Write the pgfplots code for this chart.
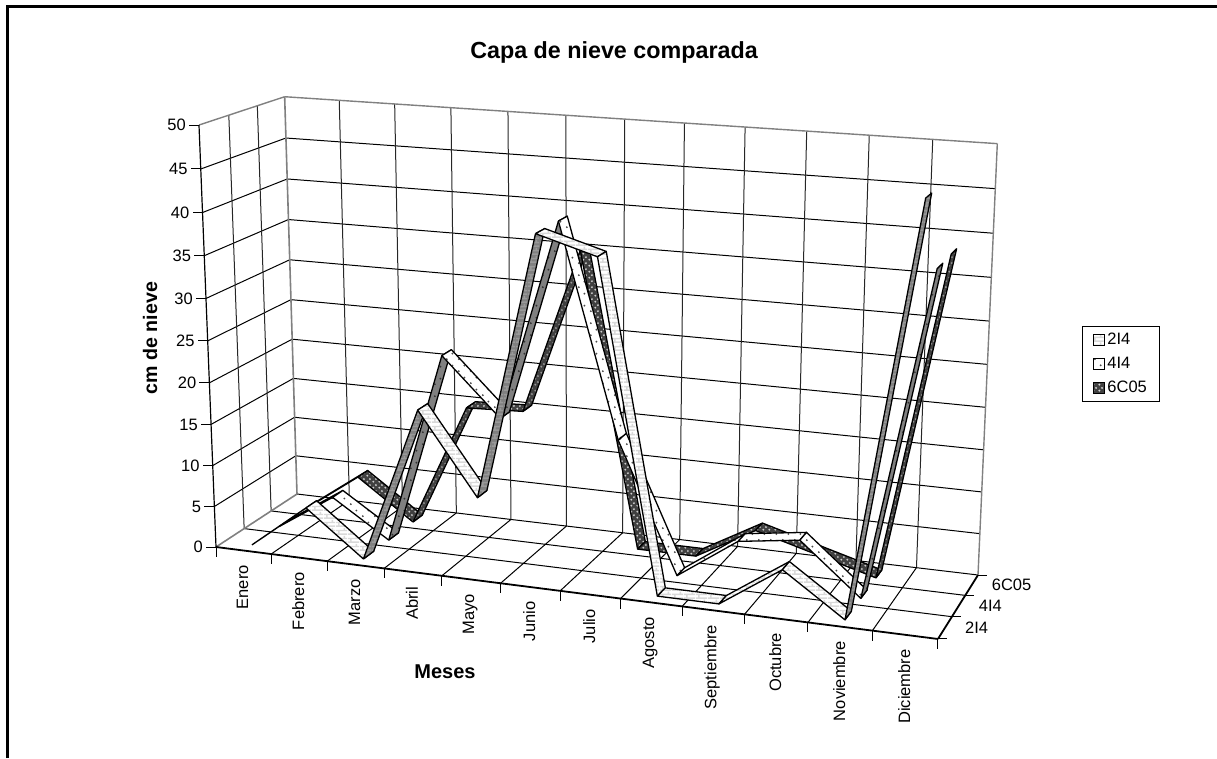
\documentclass[border=0pt]{standalone}
\usepackage{fontspec}
\setmainfont{Liberation Sans}
\usepackage{pgfplots}
\usepackage{pgfplotstable}
\pgfplotsset{compat=1.18}
\usetikzlibrary{patterns}

% cm of snow per month, series sit at depth 0.5, 1.5, 2.5
\pgfplotstableread{
m  a    b     c
0  0    0     0
1  5.4  4.5   4.9
2  0    0     0
3  18.7 23.3  15.1
4  9.1  16.5  15.4
5  40.2 40.2  35.4
6  38.2 15.4  0
7  0    0     0
8  0    5     4
9  4.9  6     2
10 0    0     0
11 47.3 38.3  38.4
}\snow

% patterns, drawn in picture pixels
\pgfdeclarepatternformonly{brk}{\pgfqpoint{0pt}{0pt}}{\pgfqpoint{12pt}{8pt}}{\pgfqpoint{12pt}{8pt}}{%
  \pgfsetlinewidth{1.6pt}
  \pgfpathmoveto{\pgfqpoint{0pt}{1pt}}\pgfpathlineto{\pgfqpoint{12pt}{1pt}}
  \pgfpathmoveto{\pgfqpoint{0pt}{5pt}}\pgfpathlineto{\pgfqpoint{12pt}{5pt}}
  \pgfpathmoveto{\pgfqpoint{3pt}{1pt}}\pgfpathlineto{\pgfqpoint{3pt}{5pt}}
  \pgfpathmoveto{\pgfqpoint{9pt}{5pt}}\pgfpathlineto{\pgfqpoint{9pt}{8pt}}
  \pgfusepath{stroke}}
\pgfdeclarepatternformonly{dts}{\pgfqpoint{0pt}{0pt}}{\pgfqpoint{12pt}{12pt}}{\pgfqpoint{12pt}{12pt}}{%
  \pgfpathcircle{\pgfqpoint{3pt}{3pt}}{1.1pt}
  \pgfusepath{fill}
  \pgfpathcircle{\pgfqpoint{9pt}{9pt}}{1.1pt}
  \pgfusepath{fill}}
\pgfdeclarepatternformonly{dmd}{\pgfqpoint{0pt}{0pt}}{\pgfqpoint{6pt}{6pt}}{\pgfqpoint{6pt}{6pt}}{%
  \pgfpathcircle{\pgfqpoint{1.5pt}{1.5pt}}{1.2pt}
  \pgfusepath{fill}
  \pgfpathcircle{\pgfqpoint{4.5pt}{4.5pt}}{1.2pt}
  \pgfusepath{fill}}

\definecolor{gray20}{gray}{.20}\definecolor{gray25}{gray}{.25}
\definecolor{gray30}{gray}{.30}\definecolor{gray35}{gray}{.35}
\definecolor{gray50}{gray}{.50}\definecolor{gray60}{gray}{.60}
\definecolor{gray80}{gray}{.80}\definecolor{gray85}{gray}{.85}

% background and pattern of each face; up = steep rise, dn = the rest
\tikzset{
  aupbg/.style={draw=none,fill=gray50},  auppt/.style={draw=none,pattern=brk,pattern color=gray60},
  adnbg/.style={draw=none,fill=white},   adnpt/.style={draw=none,pattern=brk,pattern color=gray85},
  bupbg/.style={draw=none,fill=gray50},  buppt/.style={draw=none,pattern=dts,pattern color=gray20},
  bdnbg/.style={draw=none,fill=white},   bdnpt/.style={draw=none,pattern=dts,pattern color=gray30},
  cupbg/.style={draw=none,fill=gray25},  cuppt/.style={draw=none,pattern=dmd,pattern color=gray60},
  cdnbg/.style={draw=none,fill=gray25},  cdnpt/.style={draw=none,pattern=dmd,pattern color=gray80},
}

% chart space (month 0-12, depth 0-3, cm 0-50) to picture pixels
\newcommand\proj[4]{%
  \pgfmathsetmacro\pu{#1/12}\pgfmathsetmacro\pv{#2/3}\pgfmathsetmacro\pw{#3/50}%
  \pgfmathsetmacro\dn{1-0.08906*\pu+0.06543*\pv-0.045*\pw}%
  \pgfmathsetmacro\qx{(216+638.46*\pu+100.43*\pv-25.96*\pw)/\dn}%
  \pgfmathsetmacro\qy{(547+35.09*\pu-20.68*\pv-427.62*\pw)/\dn}%
  \edef#4{(\qx,\qy)}}

\newcommand\gl[7]{% two chart points, then the style
  \proj{#1}{#2}{#3}{\ptA}\proj{#4}{#5}{#6}{\ptB}%
  \edef\temp{\noexpand\addplot[#7] coordinates {\ptA\ptB};}\temp}

% one series: column, depth, style prefix
\newcommand\ribbon[3]{%
  \pgfplotsforeachungrouped \i in {0,...,10}{%
    \pgfmathtruncatemacro\j{\i+1}%
    \pgfplotstablegetelem{\i}{#1}\of\snow\let\va\pgfplotsretval
    \pgfplotstablegetelem{\j}{#1}\of\snow\let\vb\pgfplotsretval
    \pgfmathsetmacro\ua{\i+0.5}\pgfmathsetmacro\ub{\i+1.5}%
    \pgfmathsetmacro\vf{#2-0.2}\pgfmathsetmacro\vk{#2+0.2}%
    \proj{\ua}{\vf}{\va}{\ptA}\proj{\ub}{\vf}{\vb}{\ptB}%
    \proj{\ub}{\vk}{\vb}{\ptC}\proj{\ua}{\vk}{\va}{\ptD}%
    \pgfmathparse{\vb>\va+6?"up":"dn"}\let\dirn\pgfmathresult
    \edef\temp{\noexpand\addplot[#3\dirn bg] coordinates {\ptA\ptB\ptC\ptD\ptA};
      \noexpand\addplot[#3\dirn pt] coordinates {\ptA\ptB\ptC\ptD\ptA};
      \noexpand\addplot[draw=black,line width=1.3pt,line join=round] coordinates {\ptA\ptB\ptC\ptD\ptA};}\temp
  }}

\newcommand\tf{\fontsize{16.5}{19}\selectfont}

\begin{document}
\begin{tikzpicture}
\path[use as bounding box] (0,0) rectangle (1217pt,758pt);
\begin{axis}[
  at={(0,0)},anchor=south west,
  width=1217pt,height=758pt,scale only axis,
  xmin=0,xmax=1217,ymin=0,ymax=758,y dir=reverse,
  hide axis,clip=true,
  every axis plot/.append style={no marks,solid},
  legend style={at={(axis cs:1082,326)},anchor=north west,
    draw=black,line width=.8pt,font=\tf,
    row sep=7pt,inner xsep=11pt,inner ysep=5pt},
  legend cell align=left,
  legend image code/.code={\draw[#1,line width=1pt] (0pt,-5.5pt) rectangle (11pt,5.5pt);},
]
\addlegendimage{draw=black,fill=white,postaction={pattern=brk,pattern color=gray85}}
\addlegendentry{2I4}
\addlegendimage{draw=black,fill=white,postaction={pattern=dts,pattern color=gray30}}
\addlegendentry{4I4}
\addlegendimage{draw=black,fill=gray25,postaction={pattern=dmd,pattern color=gray85}}
\addlegendentry{6C05}

% page frame: bottom and right sides are cut off
\addplot[black,line width=2.6pt] coordinates {(7.5,758) (7.5,6.3) (1217,6.3)};

% walls and floor
\pgfplotsforeachungrouped \w in {5,10,...,45}{%
  \gl{0}{0}{\w}{0}{3}{\w}{black,line width=1pt}
  \gl{0}{3}{\w}{12}{3}{\w}{black,line width=1pt}
}
\pgfplotsforeachungrouped \u in {1,...,11}{%
  \gl{\u}{3}{0}{\u}{3}{50}{black!85,line width=1pt}
  \gl{\u}{0}{0}{\u}{3}{0}{black,line width=1pt}
}
\pgfplotsforeachungrouped \v in {1,2}{%
  \gl{0}{\v}{0}{0}{\v}{50}{black!85,line width=1pt}
  \gl{0}{\v}{0}{12}{\v}{0}{black,line width=1pt}
}
\gl{0}{3}{0}{12}{3}{0}{black,line width=1pt}
\gl{0}{0}{50}{0}{3}{50}{gray50,line width=1.4pt}
\gl{0}{3}{50}{12}{3}{50}{gray50,line width=1.4pt}
\gl{0}{3}{0}{0}{3}{50}{gray50,line width=1.6pt}
\gl{12}{3}{0}{12}{3}{50}{gray50,line width=1.4pt}
\gl{0}{0}{0}{0}{3}{0}{gray50,line width=1.6pt}
\gl{0}{0}{0}{12}{0}{0}{black,line width=1.8pt}
\gl{12}{0}{0}{12}{3}{0}{black,line width=1.8pt}
\gl{0}{0}{0}{0}{0}{50}{black,line width=1.2pt}

% ribbons, back to front
\ribbon{c}{2.5}{c}
\ribbon{b}{1.5}{b}
\ribbon{a}{0.5}{a}

% tick marks and labels
\pgfplotsforeachungrouped \w in {0,5,...,50}{%
  \proj{0}{0}{\w}{\ptA}%
  \pgfmathsetmacro\tx{\qx-10}\pgfmathsetmacro\lx{\qx-13}%
  \edef\temp{\noexpand\addplot[black,line width=1pt] coordinates {\ptA(\tx,\qy)};
    \noexpand\node[anchor=east,inner sep=0pt,font=\noexpand\tf] at (axis cs:\lx,\qy) {\w};}\temp
}
\pgfplotsforeachungrouped \u in {0,...,12}{%
  \proj{\u}{0}{0}{\ptA}%
  \pgfmathsetmacro\ty{\qy+10}%
  \edef\temp{\noexpand\addplot[black,line width=1pt] coordinates {\ptA(\qx,\ty)};}\temp
}
\pgfplotsforeachungrouped \v in {0,1,2,3}{%
  \proj{12}{\v}{0}{\ptA}%
  \pgfmathsetmacro\tx{\qx+9}%
  \edef\temp{\noexpand\addplot[black,line width=1pt] coordinates {\ptA(\tx,\qy)};}\temp
}
\pgfplotsforeachungrouped \n/\name in {0/Enero,1/Febrero,2/Marzo,3/Abril,4/Mayo,5/Junio,6/Julio,7/Agosto,8/Septiembre,9/Octubre,10/Noviembre,11/Diciembre}{%
  \pgfmathsetmacro\um{\n+0.5}\proj{\um}{0}{0}{\ptA}%
  \pgfmathsetmacro\lx{\qx-1}\pgfmathsetmacro\ly{\qy+14.5}%
  \edef\temp{\noexpand\node[rotate=90,anchor=east,inner sep=0pt,font=\noexpand\tf] at (axis cs:\lx,\ly) {\name};}\temp
}
\pgfplotsforeachungrouped \v/\name in {0.5/2I4,1.5/4I4,2.5/6C05}{%
  \proj{12}{\v}{0}{\ptA}%
  \pgfmathsetmacro\lx{\qx+20}%
  \edef\temp{\noexpand\node[anchor=west,inner sep=0pt,font=\noexpand\tf] at (axis cs:\lx,\qy) {\name};}\temp
}
\node[font=\bfseries\fontsize{23.3}{27}\selectfont] at (axis cs:614,52) {Capa de nieve comparada};
\node[font=\bfseries\fontsize{19.6}{24}\selectfont,rotate=90] at (axis cs:150,338) {cm de nieve};
\node[font=\bfseries\fontsize{20}{24}\selectfont] at (axis cs:445,672) {Meses};
\end{axis}
\end{tikzpicture}
\end{document}
